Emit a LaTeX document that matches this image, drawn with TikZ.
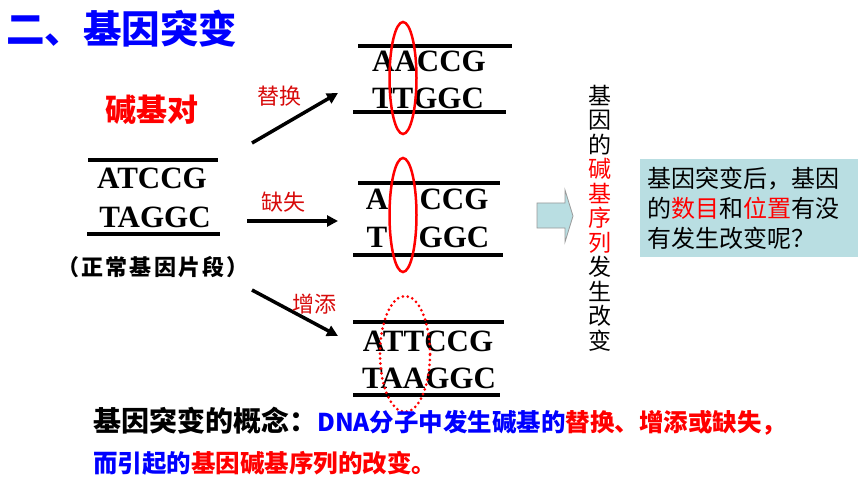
\documentclass[tikz,border=0pt]{standalone}
\usepackage{fontspec}
\setmainfont{Liberation Serif}
\newfontfamily\cjk{Noto Sans CJK SC}
\usetikzlibrary{arrows.meta}
\definecolor{myblue}{RGB}{0,0,255}
\definecolor{myred}{RGB}{255,0,0}
\definecolor{lblred}{RGB}{215,10,10}
\definecolor{boxc}{RGB}{185,222,226}
\begin{document}
\begin{tikzpicture}[x=1pt,y=-1pt,
  strand/.style={line width=3.5pt},
  bases/.style={font=\bfseries\fontsize{31}{31}\selectfont, inner sep=0pt},
  lbl/.style={font=\cjk\fontsize{22}{22}\selectfont, text=lblred, inner sep=0pt},
  mutarrow/.style={line width=3.5pt, -{Triangle[length=11pt,width=11pt]}},
  ring/.style={draw=red, line width=2.5pt},
  dotring/.style={draw=red, line width=3pt, dash pattern=on 0pt off 5pt, line cap=round}]
\useasboundingbox (0,0) rectangle (860,484);
% title
\node[anchor=base west, inner sep=0pt, text=myblue, font=\cjk\bfseries\fontsize{38.5}{38.5}\selectfont] (title) at (6,44) {二、基因突变};
% left strand
\node[inner sep=0pt, text=myred, font=\cjk\bfseries\fontsize{31}{31}\selectfont] (bp) at (152,110) {碱基对};
\coordinate (l1a) at (88,160); \coordinate (l1b) at (218,160);
\coordinate (l2a) at (87,234); \coordinate (l2b) at (220,234);
\draw[strand] (l1a) -- (l1b);
\draw[strand] (l2a) -- (l2b);
\node[bases] (n1) at (152,178) {ATCCG};
\node[bases] (n2) at (155,217) {TAGGC};
\node[inner sep=0pt, font=\cjk\bfseries\fontsize{22}{22}\selectfont\addfontfeature{LetterSpace=10}] (normal) at (153,267) {（\hspace{2pt}正常基因片段\hspace{2pt}）};
% arrows
\coordinate (a1s) at (252,143); \coordinate (a1e) at (338,93);
\coordinate (a2s) at (247,221); \coordinate (a2e) at (338,221);
\coordinate (a3s) at (252,290); \coordinate (a3e) at (338,336);
\draw[mutarrow] (a1s) -- (a1e);
\draw[mutarrow] (a2s) -- (a2e);
\draw[mutarrow] (a3s) -- (a3e);
\node[lbl] (t1) at (279,96) {替换};
\node[lbl] (t2) at (283,202) {缺失};
\node[lbl] (t3) at (314,304) {增添};
% substitution
\coordinate (r1a) at (358,46); \coordinate (r1b) at (512,46);
\coordinate (r1c) at (353,112); \coordinate (r1d) at (506,112);
\draw[strand] (r1a) -- (r1b);
\draw[strand] (r1c) -- (r1d);
\node[bases] (s1) at (429,61) {AACCG};
\node[bases] (s2) at (428,98) {TTGGC};
\draw[ring] (403,78) ellipse [x radius=13.5pt, y radius=56pt];
% deletion
\coordinate (r2a) at (358,183); \coordinate (r2b) at (500,183);
\coordinate (r2c) at (353,255); \coordinate (r2d) at (503,255);
\draw[strand] (r2a) -- (r2b);
\draw[strand] (r2c) -- (r2d);
\node[bases] (d1) at (377,199) {A};
\node[bases] (d2) at (454,199) {CCG};
\node[bases] (d3) at (377,237) {T};
\node[bases] (d4) at (454,237) {GGC};
\draw[ring] (403,215) ellipse [x radius=13.5pt, y radius=57pt];
% insertion
\coordinate (r3a) at (353,322); \coordinate (r3b) at (504,322);
\coordinate (r3c) at (353,395); \coordinate (r3d) at (500,395);
\draw[strand] (r3a) -- (r3b);
\draw[strand] (r3c) -- (r3d);
\node[bases] (i1) at (428,341) {ATTCCG};
\node[bases] (i2) at (429,378) {TAAGGC};
\draw[dotring] (405,354) ellipse [x radius=25pt, y radius=58pt];
% block arrow
\draw[fill=boxc, draw=gray!80, line width=0.8pt] (537,203) -- (565,203) -- (565,190) -- (573,216) -- (565,242) -- (565,228) -- (537,228) -- cycle;
% vertical text
\node[align=center, inner sep=0pt, font=\cjk\fontsize{23}{24.5}\selectfont] (vt) at (600,218)
  {基\\因\\的\\\textcolor{myred}{碱}\\\textcolor{myred}{基}\\\textcolor{myred}{序}\\\textcolor{myred}{列}\\发\\生\\改\\变};
% question box
\node[fill=boxc, minimum width=218pt, minimum height=98pt, anchor=north west, inner sep=0pt] (box) at (640,159) {};
\node[anchor=west, align=left, inner sep=0pt, font=\cjk\fontsize{24}{30}\selectfont] (boxtxt) at (647,208)
  {基因突变后，基因\\的\textcolor{myred}{数目}和\textcolor{myred}{位置}有没\\有发生改变呢？};
% definition
\node[anchor=base west, inner sep=0pt, font=\cjk\bfseries] (def1) at (93,431)
  {{\fontsize{28}{28}\selectfont 基因突变的概念：}{\fontsize{24.5}{24.5}\selectfont\textcolor{myblue}{DNA分子中发生碱基的}\textcolor{myred}{替换、增添或缺失，}}};
\node[anchor=base west, inner sep=0pt, font=\cjk\bfseries\fontsize{24.5}{24.5}\selectfont] (def2) at (93,472)
  {\textcolor{myblue}{而引起的}\textcolor{myred}{基因碱基序列的改变。}};
\end{tikzpicture}
\end{document}
